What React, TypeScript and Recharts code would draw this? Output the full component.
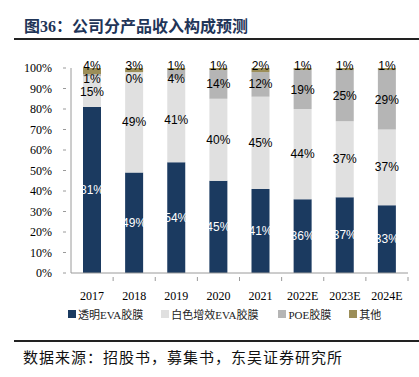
import { BarChart, Bar, XAxis, YAxis, LabelList } from 'recharts';

const years = ['2017', '2018', '2019', '2020', '2021', '2022E', '2023E', '2024E'];
const clearEva = [81, 49, 54, 45, 41, 36, 37, 33];
const whiteEva = [15, 49, 41, 40, 45, 44, 37, 37];
const poe = [1, 0, 4, 14, 12, 19, 25, 29];
const other = [4, 3, 1, 1, 2, 1, 1, 1];
const yTicks = [0, 10, 20, 30, 40, 50, 60, 70, 80, 90, 100];

const series = [
  { key: 'clear', name: '透明EVA胶膜', color: '#1b3a60' },
  { key: 'white', name: '白色增效EVA胶膜', color: '#e0e0e0' },
  { key: 'poe', name: 'POE胶膜', color: '#b5b5b5' },
  { key: 'other', name: '其他', color: '#9c8e58' },
];

const data = years.map((year, i) => ({
  year,
  clear: clearEva[i],
  white: whiteEva[i],
  poe: poe[i],
  other: other[i],
}));

const serif = '"Liberation Serif", "Times New Roman", "Noto Sans CJK SC", serif';
const sans = '"Liberation Sans", Arial, sans-serif';
const axisColor = '#9a9a9a';
const plotTop = 68;
const plotBottom = 273;
const band = (408 - 71) / years.length;

function YTick(props: any) {
  const { x, y, payload } = props;
  return (
    <g>
      <line x1={x} x2={x + 3} y1={y} y2={y} stroke={axisColor} />
      <text x={x - 11} y={y} dy={4} textAnchor="end" fontFamily={serif} fontSize={12} fill="#000">
        {payload.value}%
      </text>
    </g>
  );
}

function XTick(props: any) {
  const { x, y, payload } = props;
  return (
    <g>
      <line x1={x + band / 2} x2={x + band / 2} y1={y} y2={y - 4} stroke={axisColor} />
      <text x={x} y={y + 15} dy={4} textAnchor="middle" fontFamily={serif} fontSize={12} fill="#000">
        {payload.value}
      </text>
    </g>
  );
}

function pctText(cx: number, cy: number, value: any, fill: string) {
  return (
    <text x={cx} y={cy} dy={4} textAnchor="middle" fontFamily={sans} fontSize={12} fill={fill}>
      {value}%
    </text>
  );
}

function centerLabel(fill: string) {
  return (props: any) => {
    const { x, y, width, height, value } = props;
    return pctText(x + width / 2, y + height / 2, value, fill);
  };
}

// the "other" label also draws the POE label below it, so that a 0% POE segment still gets its text
function topLabels(props: any) {
  const { x, y, width, height, value, index } = props;
  const cx = x + width / 2;
  const otherY = Math.min(y + height / 2 - 1, plotTop - 2);
  const poeVal = poe[index];
  const poeHalf = ((plotBottom - plotTop) * poeVal) / 100 / 2;
  const poeY = Math.max(y + height + poeHalf, plotTop + 11);
  return (
    <g>
      {pctText(cx, otherY, value, '#000')}
      {pctText(cx, poeY, poeVal, '#000')}
    </g>
  );
}

function LegendRow() {
  return (
    <div
      style={{
        position: 'absolute',
        top: 306,
        left: 68,
        display: 'flex',
        fontFamily: serif,
        fontSize: 11,
        color: '#222',
        whiteSpace: 'nowrap',
      }}
    >
      {series.map((s, i) => (
        <div key={s.key} style={{ display: 'flex', alignItems: 'center', marginRight: i === 1 ? 20 : 18 }}>
          <span style={{ width: 8, height: 8, background: s.color, marginRight: 2, display: 'inline-block' }} />
          <span>{s.name}</span>
        </div>
      ))}
    </div>
  );
}

export default function App() {
  return (
    <div style={{ position: 'absolute', left: 0, top: 0, width: 419, height: 377, background: '#fff', overflow: 'hidden' }}>
      <div
        style={{
          position: 'absolute',
          left: 24,
          top: 13,
          fontFamily: serif,
          fontWeight: 'bold',
          fontSize: 16,
          color: '#1f3558',
          whiteSpace: 'nowrap',
        }}
      >
        图36：公司分产品收入构成预测
      </div>
      <div style={{ position: 'absolute', left: 14, top: 38, width: 405, height: 2, background: '#222' }} />
      <div style={{ position: 'absolute', left: 0, top: 0 }}>
        <BarChart
          width={419}
          height={330}
          data={data}
          margin={{ top: plotTop, right: 11, left: 0, bottom: 27 }}
          barCategoryGap={0}
          barSize={18}
        >
          <YAxis
            width={71}
            domain={[0, 100]}
            ticks={yTicks}
            allowDataOverflow
            stroke={axisColor}
            tickLine={false}
            tick={<YTick />}
            interval={0}
          />
          <XAxis dataKey="year" height={30} stroke={axisColor} tickLine={false} tick={<XTick />} interval={0} />
          <Bar dataKey="clear" stackId="a" fill={series[0].color} isAnimationActive={false}>
            <LabelList dataKey="clear" content={centerLabel('#ffffff')} />
          </Bar>
          <Bar dataKey="white" stackId="a" fill={series[1].color} isAnimationActive={false}>
            <LabelList dataKey="white" content={centerLabel('#000000')} />
          </Bar>
          <Bar dataKey="poe" stackId="a" fill={series[2].color} isAnimationActive={false} />
          <Bar dataKey="other" stackId="a" fill={series[3].color} isAnimationActive={false}>
            <LabelList dataKey="other" content={topLabels} />
          </Bar>
        </BarChart>
      </div>
      <LegendRow />
      <div style={{ position: 'absolute', left: 14, top: 340, width: 405, height: 2, background: '#222' }} />
      <div
        style={{
          position: 'absolute',
          left: 23,
          top: 346,
          fontFamily: serif,
          fontSize: 15,
          letterSpacing: 1,
          color: '#111',
          whiteSpace: 'nowrap',
        }}
      >
        数据来源：招股书，募集书，东吴证券研究所
      </div>
    </div>
  );
}
